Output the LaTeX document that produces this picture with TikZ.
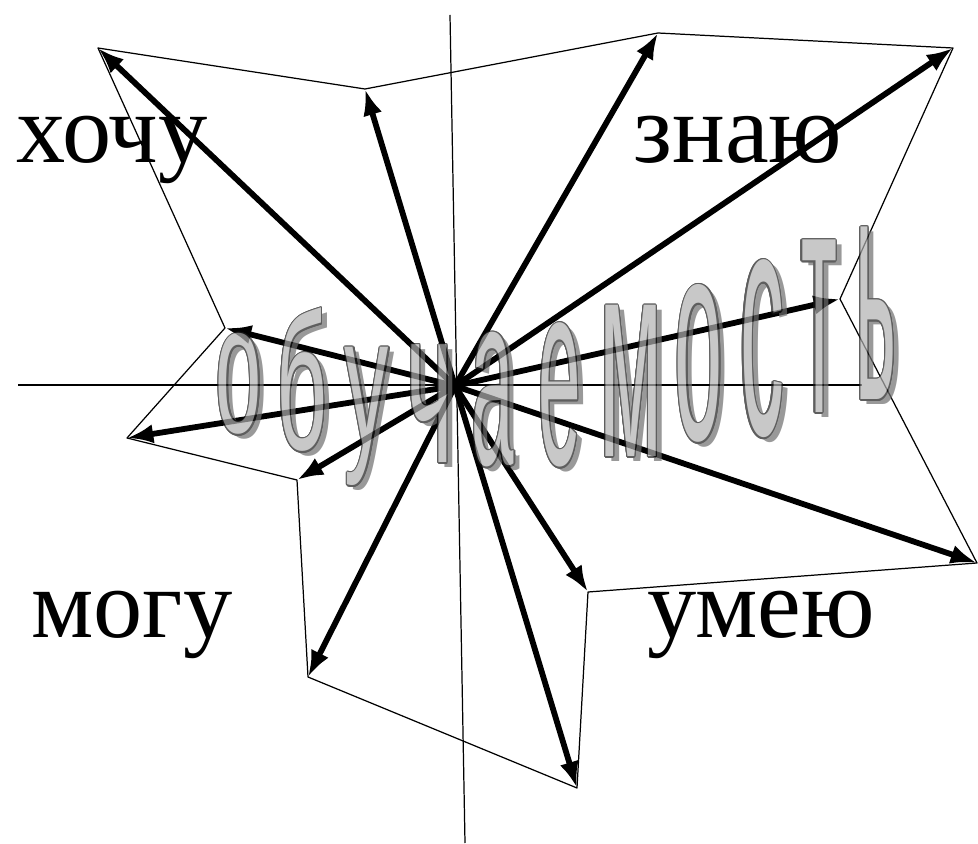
\documentclass[tikz,border=0pt]{standalone}
\usepackage{fontspec}
\setmainfont{Liberation Serif}
\newfontfamily\wafont{Liberation Sans}
\usepackage{contour}
\usetikzlibrary{arrows.meta,calc}
\definecolor{lettergray}{RGB}{176,176,176}
\definecolor{shadowgray}{RGB}{110,110,110}
\definecolor{edgegray}{RGB}{25,25,25}
\contourlength{0.7pt}
\contournumber{16}

\begin{document}
\begin{tikzpicture}[>={Latex[length=15pt,width=11pt]}, x=0.02cm, y=-0.02cm]
			\tikzstyle{vec}=[->, line width=3.3pt]
			\tikzstyle{rim}=[line width=0.7pt, line join=round]
			\tikzstyle{axis}=[line width=0.7pt]
			\tikzstyle{word}=[anchor=base, inner sep=0pt, font=\fontsize{56}{60}\selectfont]
			\tikzstyle{letter}=[anchor=base, inner sep=0pt]

			\newcommand{\ShadeLetter}[6]{
				\node (#1s) [letter, text=shadowgray] at (#2+6,#3+5) {\fontsize{#4}{#4}\wafont\addfontfeatures{FakeStretch=#5}#6};
				\node (#1) [letter, text=lettergray] at (#2,#3) {\fontsize{#4}{#4}\wafont\addfontfeatures{FakeStretch=#5}\contour{edgegray}{#6}};
			}

			\useasboundingbox (0,0) rectangle (978,844);

			% axes
			\coordinate (ytop) at (450,15);
			\coordinate (ybot) at (465,843);
			\coordinate (xleft) at (18,385);
			\coordinate (xright) at (862,385);
			\draw [axis] (ytop) -- (ybot);
			\draw [axis] (xleft) -- (xright);

			\coordinate (O) at (455,386);
			\coordinate (t1) at (98,48);
			\coordinate (t2) at (365,89);
			\coordinate (t3) at (658,33);
			\coordinate (t4) at (953,48);
			\coordinate (t5) at (840,299);
			\coordinate (t6) at (977,563);
			\coordinate (t7) at (588,592);
			\coordinate (t8) at (577,788);
			\coordinate (t9) at (308,677);
			\coordinate (t10) at (297,480);
			\coordinate (t11) at (127,438);
			\coordinate (t12) at (225,328);

			\draw [vec] (O) -- (t1);
			\draw [vec] (O) -- (t2);
			\draw [vec] (O) -- (t3);
			\draw [vec] (O) -- (t4);
			\draw [vec] (O) -- (t5);
			\draw [vec] (O) -- (t6);
			\draw [vec] (O) -- (t7);
			\draw [vec] (O) -- (t8);
			\draw [vec] (O) -- (t9);
			\draw [vec] (O) -- (t10);
			\draw [vec] (O) -- (t11);
			\draw [vec] (O) -- (t12);

			\draw [rim] (t1) -- (t2) -- (t3) -- (t4) -- (t5) -- (t6) -- (t7) -- (t8) -- (t9) -- (t10) -- (t11) -- (t12) -- cycle;

			% word art
			\begin{scope}[transparency group, opacity=0.7]
				\ShadeLetter{l1}{239}{433}{105}{0.45}{о}
				\ShadeLetter{l2}{302}{450}{110}{0.46}{б}
				\ShadeLetter{l3}{367}{447}{107}{0.47}{у}
				\ShadeLetter{l4}{430}{463}{127}{0.40}{ч}
				\ShadeLetter{l5}{493}{465}{140}{0.31}{а}
				\ShadeLetter{l6}{560}{465}{150}{0.29}{е}
				\ShadeLetter{l7}{631}{457}{163}{0.32}{м}
				\ShadeLetter{l8}{699}{440}{164}{0.30}{о}
				\ShadeLetter{l9}{762}{435}{185}{0.27}{с}
				\ShadeLetter{l10}{819}{413}{186}{0.24}{т}
				\ShadeLetter{l11}{876}{400}{186}{0.24}{ь}
			\end{scope}

			\node (want) [word] at (112,163) {хочу};
			\node (know) [word] at (738,163) {знаю};
			\node (can) [word] at (132,638) {могу};
			\node (skill) [word] at (761,638) {умею};
		\end{tikzpicture}
\end{document}
